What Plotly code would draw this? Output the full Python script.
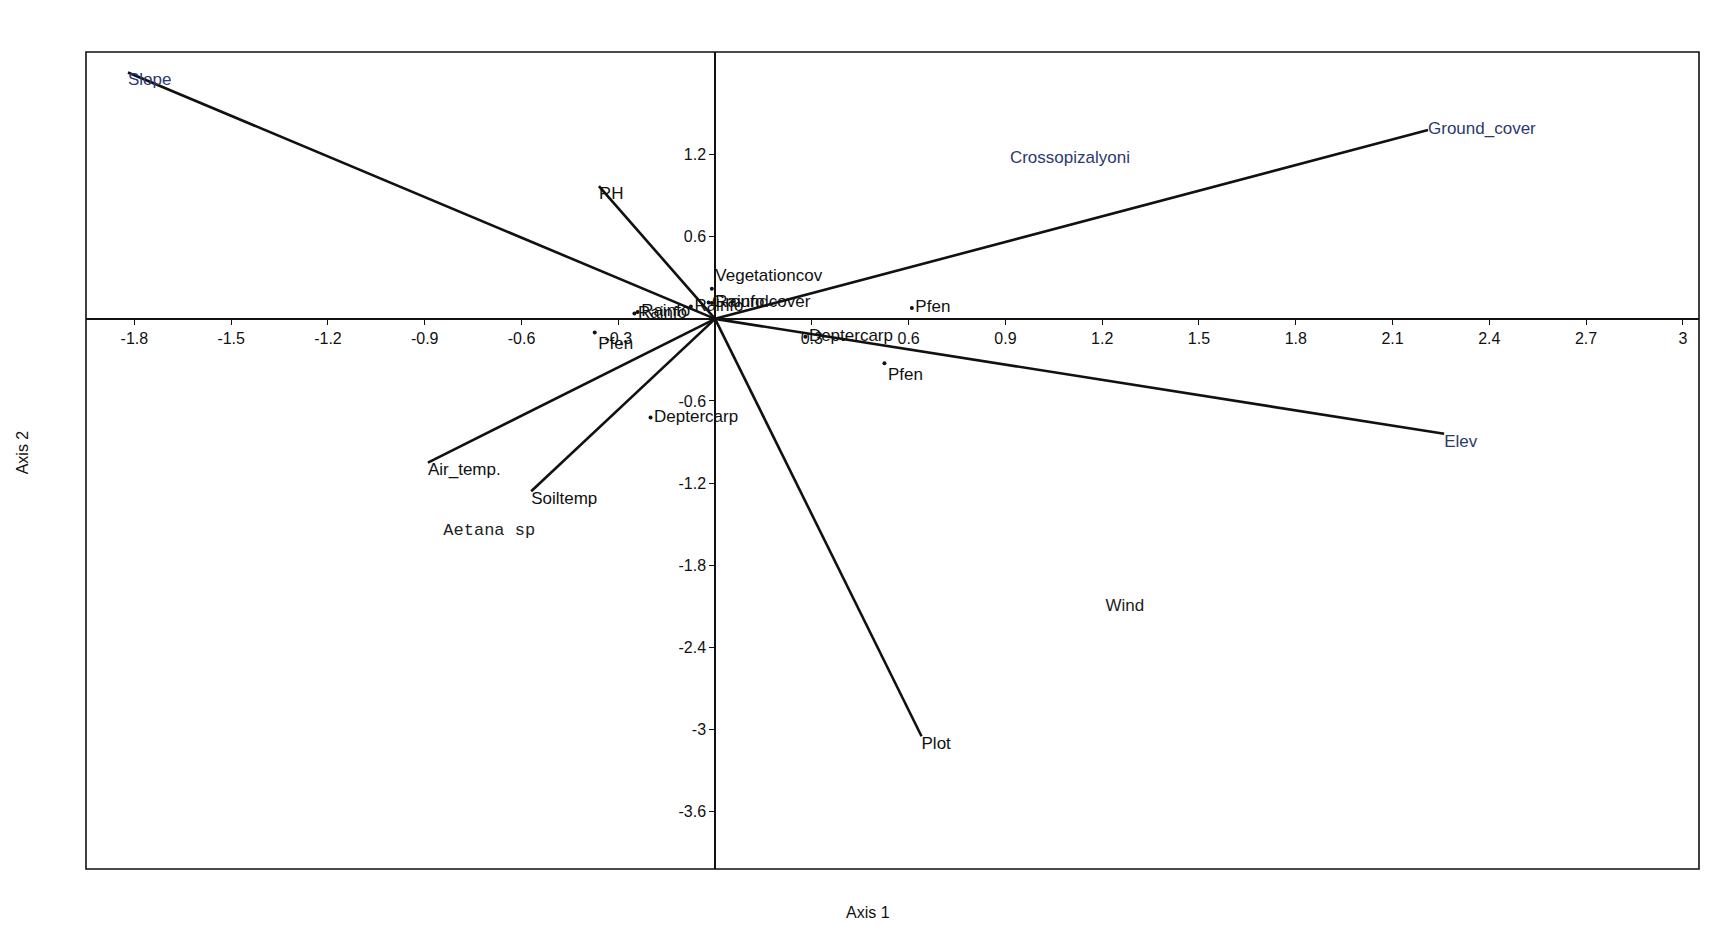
import plotly.graph_objects as go

# Environmental vectors (biplot arrows)
vec_names = ["Slope", "RH", "Ground_cover", "Elev", "Plot", "Air_temp.", "Soiltemp"]
vec_x = [-1.82, -0.36, 2.21, 2.26, 0.64, -0.89, -0.57]
vec_y = [1.80, 0.97, 1.38, -0.84, -3.05, -1.05, -1.26]
vec_colors = ["#2b3a6e", "#111111", "#2b3a6e", "#2b3a6e", "#111111", "#111111", "#111111"]
vec_textpos = ["bottom right", "bottom right", "middle right", "bottom right", "bottom right", "bottom right", "bottom right"]

# Species / site points
pt_names = ["Pfen", "Pfen", "Pfen", "Deptercarp", "Deptercarp", "Rainfo", "Rainfo", "Rainfo", "Vegetationcov", "Groundcover", "Rainfo"]
pt_x = [0.61, 0.525, -0.373, -0.20, 0.28, -0.25, -0.24, -0.075, -0.01, -0.02, -0.01]
pt_y = [0.08, -0.325, -0.10, -0.72, -0.13, 0.04, 0.05, 0.09, 0.22, 0.12, 0.115]
pt_textpos = ["middle right", "bottom right", "bottom right", "middle right", "middle right",
              "middle right", "middle right", "middle right", "top right", "middle right", "middle right"]

# Free text labels
txt_names = ["Crossopizalyoni", "Wind", "Aetana sp"]
txt_x = [1.10, 1.27, -0.70]
txt_y = [1.17, -2.10, -1.55]

# Axis ticks
x_ticks = [-1.8, -1.5, -1.2, -0.9, -0.6, -0.3, 0.3, 0.6, 0.9, 1.2, 1.5, 1.8, 2.1, 2.4, 2.7, 3.0]
x_ticklabels = ["-1.8", "-1.5", "-1.2", "-0.9", "-0.6", "-0.3", "0.3", "0.6", "0.9", "1.2", "1.5", "1.8", "2.1", "2.4", "2.7", "3"]
y_ticks = [-3.6, -3.0, -2.4, -1.8, -1.2, -0.6, 0.6, 1.2]
y_ticklabels = ["-3.6", "-3", "-2.4", "-1.8", "-1.2", "-0.6", "0.6", "1.2"]

x_range = [-1.95, 3.05]
y_range = [-4.02, 1.95]

FONT = "Liberation Sans, Arial, sans-serif"

fig = go.Figure()

for name, x, y, c, tp in zip(vec_names, vec_x, vec_y, vec_colors, vec_textpos):
    fig.add_trace(go.Scatter(
        x=[0, x], y=[0, y], mode="lines+text",
        line=dict(color="#111111", width=2.6),
        text=["", name], textposition=tp,
        textfont=dict(family=FONT, size=17, color=c),
        hoverinfo="skip", showlegend=False,
    ))

fig.add_trace(go.Scatter(
    x=pt_x, y=pt_y, mode="markers+text",
    marker=dict(color="#111111", size=4),
    text=pt_names, textposition=pt_textpos,
    textfont=dict(family=FONT, size=17, color="#111111"),
    showlegend=False,
))

fig.add_trace(go.Scatter(
    x=txt_x, y=txt_y, mode="text",
    text=txt_names,
    textfont=dict(family=[FONT, FONT, "Liberation Mono, Courier New, monospace"], size=17,
                  color=["#2b3a6e", "#222222", "#222222"]),
    showlegend=False,
))

x_pos = (0 - y_range[0]) / (y_range[1] - y_range[0])
y_pos = (0 - x_range[0]) / (x_range[1] - x_range[0])

fig.update_layout(
    width=1719, height=931,
    paper_bgcolor="white", plot_bgcolor="white",
    margin=dict(l=78, r=28, t=44, b=70),
    font=dict(family=FONT, size=16, color="#111111"),
    xaxis=dict(range=x_range, anchor="free", position=x_pos, showline=True, linecolor="#111111",
               linewidth=1.6, tickvals=x_ticks, ticktext=x_ticklabels, ticks="outside", ticklen=5,
               tickcolor="#111111", showgrid=False, zeroline=False, automargin=False,
               tickfont=dict(family=FONT, size=16, color="#111111")),
    yaxis=dict(range=y_range, anchor="free", position=y_pos, showline=True, linecolor="#111111",
               linewidth=1.6, tickvals=y_ticks, ticktext=y_ticklabels, ticks="outside", ticklen=5,
               tickcolor="#111111", showgrid=False, zeroline=False, automargin=False,
               tickfont=dict(family=FONT, size=16, color="#111111")),
    shapes=[dict(type="rect", xref="paper", yref="paper", x0=0, y0=0, x1=1, y1=1,
                 line=dict(color="#111111", width=1.6))],
    annotations=[
        dict(text="Axis 1", xref="paper", yref="paper", x=0.485, y=0, yshift=-43,
             xanchor="center", yanchor="middle",
             showarrow=False, font=dict(family=FONT, size=16, color="#111111")),
        dict(text="Axis 2", xref="paper", x=0, xshift=-64, yref="paper", y=0.51, textangle=-90,
             xanchor="center", yanchor="middle",
             showarrow=False, font=dict(family=FONT, size=16, color="#111111")),
    ],
)

fig.write_html("out.html")
